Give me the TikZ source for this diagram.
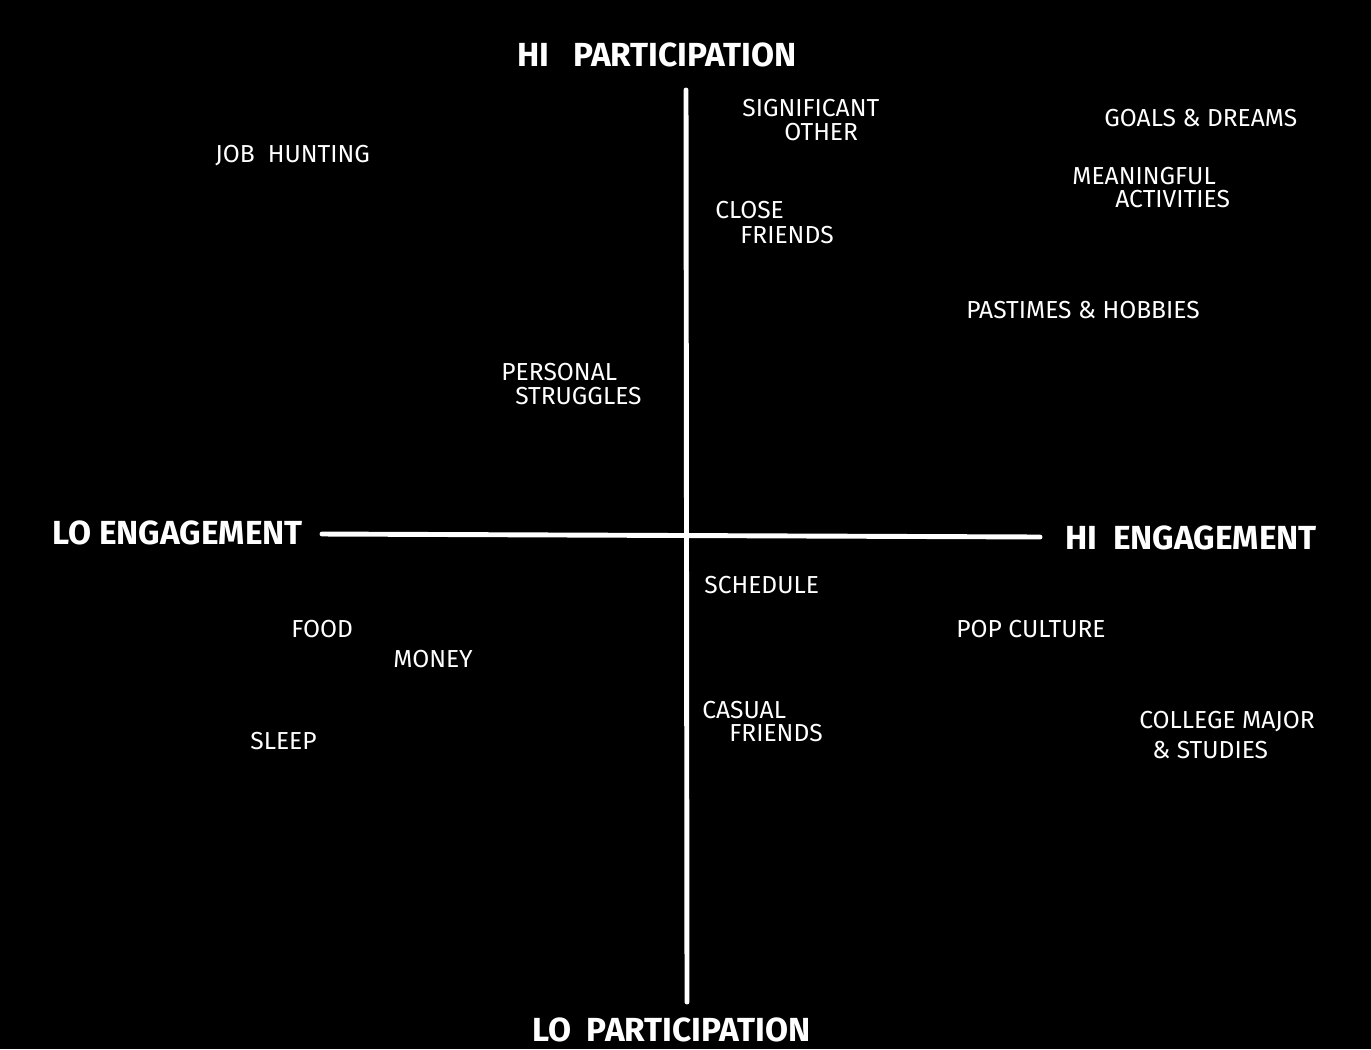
\documentclass[tikz,border=0pt]{standalone}
\usepackage{fontspec}
\setmainfont{Fira Sans}
\begin{document}
\begin{tikzpicture}[x=0.02cm,y=-0.02cm,
  lbl/.style={anchor=west,text=white,inner sep=0pt,font=\fontsize{14}{16}\selectfont},
  axlbl/.style={anchor=west,text=white,inner sep=0pt,font=\fontsize{19}{21}\selectfont\bfseries},
  axis/.style={draw=white,line width=2.8pt,line cap=round}]
\fill[black] (0,0) rectangle (1371,1049);
\useasboundingbox (0,0) rectangle (1371,1049);
% axes
\coordinate (top) at (686,90);
\coordinate (bot) at (687,1002);
\coordinate (lft) at (322,534);
\coordinate (rgt) at (1040,537);
\draw[axis] (top) -- (bot);
\draw[axis] (lft) -- (rgt);
% axis labels
\node[axlbl] (hip) at (517,55) {HI\ \ \ PARTICIPATION};
\node[axlbl] (lop) at (532,1030) {LO\ \ PARTICIPATION};
\node[axlbl] (loe) at (52,533) {LO\ ENGAGEMENT};
\node[axlbl] (hie) at (1065,538) {HI\ \ ENGAGEMENT};
% items
\node[lbl] (sigA) at (742,108) {SIGNIFICANT};
\node[lbl] (sigB) at (784,132) {OTHER};
\node[lbl] (goals) at (1104,118) {GOALS \& DREAMS};
\node[lbl] (job) at (215,156) {JOB\ \ HUNTING};
\node[lbl] (meanA) at (1072,176) {MEANINGFUL};
\node[lbl] (meanB) at (1115,199) {ACTIVITIES};
\node[lbl] (closeA) at (715,210) {CLOSE};
\node[lbl] (closeB) at (740,235) {FRIENDS};
\node[lbl] (past) at (966,310) {PASTIMES \& HOBBIES};
\node[lbl] (persA) at (501,372) {PERSONAL};
\node[lbl] (persB) at (515,396) {STRUGGLES};
\node[lbl] (sched) at (704,585) {SCHEDULE};
\node[lbl] (food) at (291,629) {FOOD};
\node[lbl] (pop) at (956,629) {POP CULTURE};
\node[lbl] (money) at (393,659) {MONEY};
\node[lbl] (casA) at (702,710) {CASUAL};
\node[lbl] (casB) at (729,733) {FRIENDS};
\node[lbl] (colA) at (1139,722) {COLLEGE MAJOR};
\node[lbl] (colB) at (1152,750) {\& STUDIES};
\node[lbl] (sleep) at (250,741) {SLEEP};
\end{tikzpicture}
\end{document}
